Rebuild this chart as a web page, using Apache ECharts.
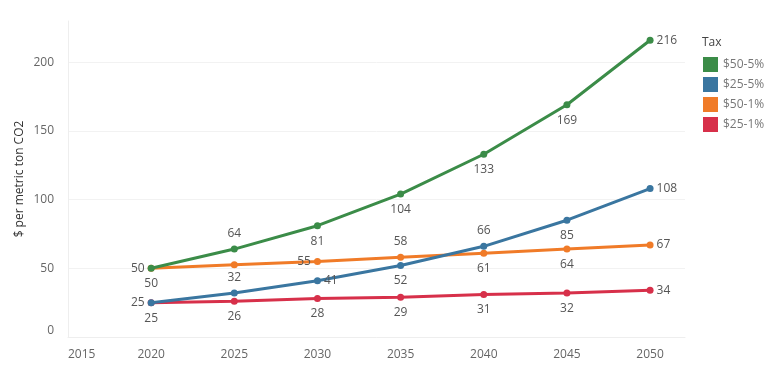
<!DOCTYPE html>
<html>
<head>
<meta charset="utf-8">
<script src="https://cdn.jsdelivr.net/npm/echarts@6/dist/echarts.min.js"></script>
<style>html,body{margin:0;padding:0;background:#fff}#c{width:776px;height:380px}</style>
</head>
<body>
<div id="c"></div>
<script>
var years = [2020, 2025, 2030, 2035, 2040, 2045, 2050];
var xTicks = [2015, 2020, 2025, 2030, 2035, 2040, 2045, 2050];
var yTicks = [0, 50, 100, 150, 200];
var seriesNames = ['$50-5%', '$25-5%', '$50-1%', '$25-1%'];
var tax50_5 = [50, 64, 81, 104, 133, 169, 216];
var tax25_5 = [25, 32, 41, 52, 66, 85, 108];
var tax50_1 = [50, 52.5, 55, 58, 61, 64, 67];
var tax25_1 = [25, 26, 28, 29, 31, 32, 34];
var colors = ['#3b8c48', '#3a76a0', '#f07b28', '#d7304a'];

// label positions per point
var pos50_5 = ['left', 'top', 'bottom', 'bottom', 'bottom', 'bottom', 'right'];
var pos25_5 = ['left', 'top', 'right', 'bottom', 'top', 'bottom', 'right'];
var pos50_1 = ['bottom', null, 'left', 'top', 'bottom', 'bottom', 'right'];
var pos25_1 = ['bottom', 'bottom', 'bottom', 'bottom', 'bottom', 'bottom', 'right'];

function mk(vals, poss) {
  return vals.map(function (v, i) {
    var p = poss[i];
    return {
      value: [years[i], v],
      label: p ? { show: true, position: p, distance: (p === 'top' || p === 'bottom') ? 6 : 3 } : { show: false }
    };
  });
}

var allData = [mk(tax50_5, pos50_5), mk(tax25_5, pos25_5), mk(tax50_1, pos50_1), mk(tax25_1, pos25_1)];
var FONT = 'Open Sans';

var chart = echarts.init(document.getElementById('c'));
chart.setOption({
  animation: false,
  textStyle: { fontFamily: FONT },
  title: {
    text: 'Tax', left: 697, top: 32,
    textStyle: { fontFamily: FONT, fontSize: 12, fontWeight: 'normal', color: '#444' }
  },
  legend: {
    orient: 'vertical', left: 698, top: 52, itemWidth: 15, itemHeight: 15, itemGap: 5,
    icon: 'rect', data: seriesNames,
    textStyle: { fontFamily: FONT, fontSize: 12, color: '#777' }
  },
  grid: { left: 68, right: 91, top: 21, bottom: 43 },
  xAxis: {
    type: 'value', min: 2015, max: 2052.1, interval: 5,
    axisLine: { show: true, lineStyle: { color: '#eeeeee' } },
    axisTick: { show: false },
    splitLine: { show: false },
    axisLabel: {
      fontFamily: FONT, fontSize: 12, color: '#666', margin: 12,
      showMaxLabel: false, alignMinLabel: 'left',
      formatter: function (v) { return xTicks.indexOf(v) >= 0 ? String(v) : ''; }
    }
  },
  yAxis: {
    type: 'value', min: 0, max: 230, interval: 50,
    name: '$ per metric ton CO2', nameLocation: 'middle', nameGap: 42, nameMoveOverlap: false,
    nameTextStyle: { fontFamily: FONT, fontSize: 12, color: '#333' },
    axisLine: { show: true, lineStyle: { color: '#eeeeee' } },
    axisTick: { show: false },
    splitLine: { show: true, lineStyle: { color: ['#f2f2f2', '#f2f2f2', '#f2f2f2', '#f2f2f2', '#f2f2f2', 'rgba(0,0,0,0)'] } },
    axisLabel: {
      fontFamily: FONT, fontSize: 12, color: '#666', margin: 14,
      showMaxLabel: false, verticalAlignMinLabel: 'bottom',
      formatter: function (v) { return yTicks.indexOf(v) >= 0 ? String(v) : ''; }
    }
  },
  series: seriesNames.map(function (n, k) {
    return {
      name: n, type: 'line', data: allData[k],
      color: colors[k],
      symbol: 'circle', symbolSize: 7,
      lineStyle: { width: 3, color: colors[k] },
      itemStyle: { color: colors[k] },
      label: { fontFamily: FONT, fontSize: 12, color: '#555' },
      z: 10 - k
    };
  })
});
</script>
</body>
</html>
